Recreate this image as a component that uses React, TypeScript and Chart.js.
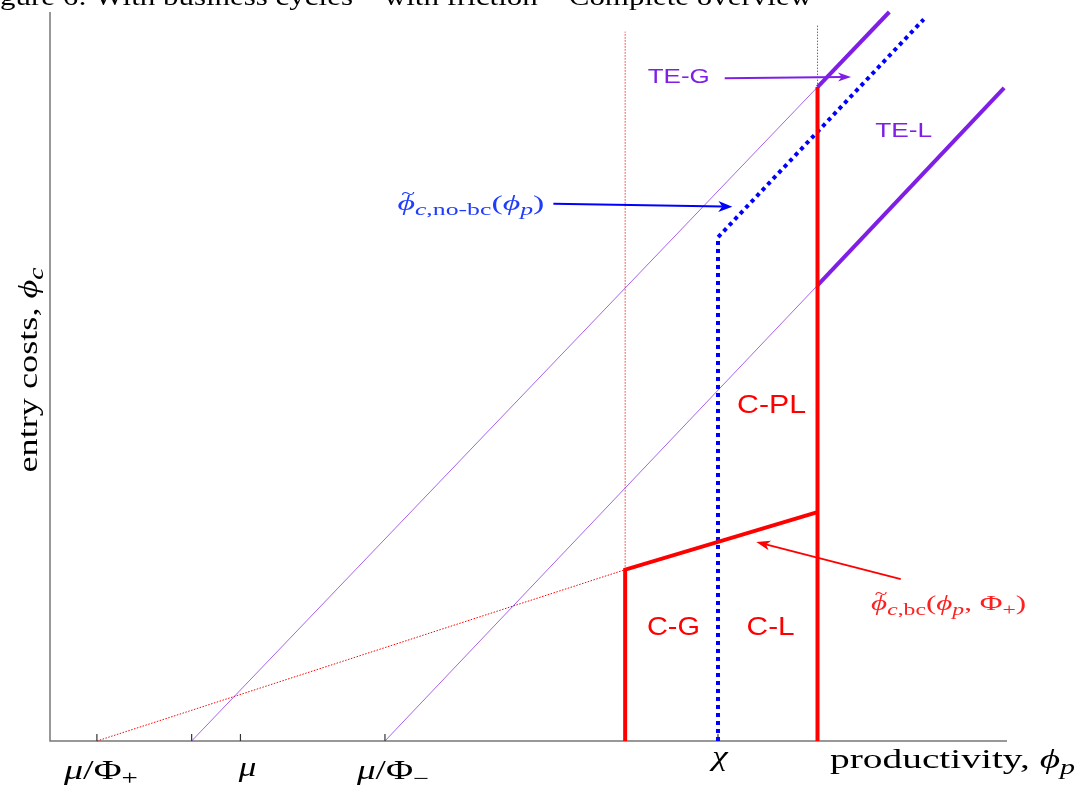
import React, { useEffect, useRef } from "react";
import { Chart, registerables } from "chart.js";

Chart.register(...registerables);

// ---------------- data (abstract units, x: 0..100, y: 0..100) ----------------
const xTickValues = [4.9, 14.8, 19.9, 35.0, 60.1, 69.8, 80.2];
const xTickLabels = ["μ/Φ+", "", "μ", "μ/Φ−", "", "χ", ""];

const redBaseExtension = [
  { x: 4.9, y: 0 },
  { x: 60.1, y: 23.5 },
];
const redGuideG = [
  { x: 60.1, y: 23.5 },
  { x: 60.1, y: 97.3 },
];
const redGuideL = [
  { x: 80.2, y: 89.7 },
  { x: 80.2, y: 98.2 },
];
const tegThin = [
  { x: 14.8, y: 0 },
  { x: 80.2, y: 89.7 },
];
const telThin = [
  { x: 35.0, y: 0 },
  { x: 80.2, y: 62.5 },
];
const tegThick = [
  { x: 80.2, y: 89.7 },
  { x: 87.7, y: 100 },
];
const telThick = [
  { x: 80.2, y: 62.5 },
  { x: 99.7, y: 89.6 },
];
const noBcThreshold = [
  { x: 69.8, y: 0 },
  { x: 69.8, y: 69.1 },
  { x: 91.3, y: 99.0 },
];
const bcThreshold = [
  { x: 60.1, y: 0 },
  { x: 60.1, y: 23.5 },
  { x: 80.2, y: 31.4 },
];
const cplBoundary = [
  { x: 80.2, y: 0 },
  { x: 80.2, y: 89.7 },
];

const arrowTEG = [
  { x: 70.5, y: 90.9 },
  { x: 83.7, y: 91.1 },
];
const arrowNoBc = [
  { x: 52.6, y: 73.7 },
  { x: 71.3, y: 73.3 },
];
const arrowBc = [
  { x: 88.9, y: 22.2 },
  { x: 73.8, y: 27.3 },
];

// ---------------- styles ----------------
const RED = "#ff0000";
const BLUE = "#0000ff";
const PURPLE = "#7f1fe6";
const AXIS = "#777777";
const SERIF = "'Liberation Serif', 'DejaVu Serif', serif";
const SANS = "'Liberation Sans', Arial, sans-serif";

type Part = { t: string; it?: boolean; sub?: boolean; tilde?: boolean };

const mathParts: Record<string, Part[]> = {
  "μ/Φ+": [{ t: "μ", it: true }, { t: "/" }, { t: "Φ" }, { t: "+", sub: true }],
  "μ": [{ t: "μ", it: true }],
  "μ/Φ−": [{ t: "μ", it: true }, { t: "/" }, { t: "Φ" }, { t: "−", sub: true }],
  "χ": [{ t: "χ", it: true }],
};
const tickLabelLayout: Record<string, { dx: number; base: number; width?: number }> = {
  "μ/Φ+": { dx: 4, base: 779, width: 74 },
  "μ": { dx: 7, base: 776 },
  "μ/Φ−": { dx: 8, base: 779, width: 72 },
  "χ": { dx: 2, base: 765 },
};

const xTitleParts: Part[] = [{ t: "productivity, " }, { t: "ϕ", it: true }, { t: "p", it: true, sub: true }];
const yTitleParts: Part[] = [{ t: "entry costs, " }, { t: "ϕ", it: true }, { t: "c", it: true, sub: true }];
const noBcParts: Part[] = [
  { t: "ϕ", it: true, tilde: true },
  { t: "c", it: true, sub: true },
  { t: ",no-bc", sub: true },
  { t: "(" },
  { t: "ϕ", it: true },
  { t: "p", it: true, sub: true },
  { t: ")" },
];
const bcParts: Part[] = [
  { t: "ϕ", it: true, tilde: true },
  { t: "c", it: true, sub: true },
  { t: ",bc", sub: true },
  { t: "(" },
  { t: "ϕ", it: true },
  { t: "p", it: true, sub: true },
  { t: ", " },
  { t: "Φ" },
  { t: "+", sub: true },
  { t: ")" },
];

const regionLabels = [
  { text: "TE-G", x: 65.7, y: 91.15, size: 21, width: 62, color: PURPLE },
  { text: "TE-L", x: 89.2, y: 83.8, size: 21, width: 57, color: PURPLE },
  { text: "C-PL", x: 75.4, y: 46.1, size: 25, width: 69, color: RED },
  { text: "C-G", x: 65.15, y: 15.6, size: 25, width: 53, color: RED },
  { text: "C-L", x: 75.3, y: 15.6, size: 25, width: 48, color: RED },
];

const TITLE = "Figure 6: With business cycles – with friction – Complete overview";

// ---------------- helpers ----------------
const SUB = 0.76;
function fontFor(p: Part, size: number) {
  const s = p.sub ? size * SUB : size;
  return `${p.it ? "italic " : ""}${s}px ${SERIF}`;
}
function measureParts(ctx: CanvasRenderingContext2D, parts: Part[], size: number) {
  let w = 0;
  for (const p of parts) {
    ctx.font = fontFor(p, size);
    w += ctx.measureText(p.t).width;
  }
  return w;
}
function drawParts(
  ctx: CanvasRenderingContext2D,
  parts: Part[],
  size: number,
  color: string,
  x: number,
  y: number,
  align: "left" | "center",
  targetW?: number,
  rotate = 0
) {
  const nat = measureParts(ctx, parts, size);
  const k = targetW ? targetW / nat : 1.3;
  ctx.save();
  ctx.translate(x, y);
  if (rotate) ctx.rotate(rotate);
  ctx.scale(k, 1);
  let cx = align === "center" ? -nat / 2 : 0;
  ctx.fillStyle = color;
  ctx.textAlign = "left";
  ctx.textBaseline = "alphabetic";
  for (const p of parts) {
    ctx.font = fontFor(p, size);
    const w = ctx.measureText(p.t).width;
    const dy = p.sub ? size * 0.22 : 0;
    ctx.fillText(p.t, cx, dy);
    if (p.tilde) {
      ctx.font = `${size * 0.75}px ${SERIF}`;
      const tw = ctx.measureText("~").width;
      ctx.fillText("~", cx + w / 2 - tw / 2 + size * 0.06, -size * 0.55);
    }
    cx += w;
  }
  ctx.restore();
}
function drawArrow(
  ctx: CanvasRenderingContext2D,
  x0: number,
  y0: number,
  x1: number,
  y1: number,
  color: string,
  lw: number,
  headL: number,
  headW: number
) {
  const ang = Math.atan2(y1 - y0, x1 - x0);
  ctx.save();
  ctx.strokeStyle = color;
  ctx.fillStyle = color;
  ctx.lineWidth = lw;
  ctx.beginPath();
  ctx.moveTo(x0, y0);
  ctx.lineTo(x1 - Math.cos(ang) * headL * 0.7, y1 - Math.sin(ang) * headL * 0.7);
  ctx.stroke();
  ctx.translate(x1, y1);
  ctx.rotate(ang);
  ctx.beginPath();
  ctx.moveTo(0, 0);
  ctx.lineTo(-headL, -headW);
  ctx.lineTo(-headL * 0.72, 0);
  ctx.lineTo(-headL, headW);
  ctx.closePath();
  ctx.fill();
  ctx.restore();
}

const overlayPlugin = {
  id: "overlay",
  beforeDatasetsDraw(chart: any) {
    const ctx: CanvasRenderingContext2D = chart.ctx;
    const { left, right, top, bottom } = chart.chartArea;
    const xs = chart.scales.x;
    ctx.save();
    ctx.strokeStyle = AXIS;
    ctx.lineWidth = 1.5;
    ctx.beginPath();
    ctx.moveTo(left, top);
    ctx.lineTo(left, bottom);
    ctx.lineTo(right, bottom);
    ctx.stroke();
    ctx.lineWidth = 1.2;
    ctx.strokeStyle = "#333";
    for (const v of xTickValues) {
      const px = xs.getPixelForValue(v);
      ctx.beginPath();
      ctx.moveTo(px, bottom);
      ctx.lineTo(px, bottom - 7);
      ctx.stroke();
    }
    ctx.restore();
  },
  afterDatasetsDraw(chart: any) {
    const ctx: CanvasRenderingContext2D = chart.ctx;
    const { left, bottom } = chart.chartArea;
    const xs = chart.scales.x;
    const ys = chart.scales.y;
    const P = (pt: { x: number; y: number }) => [xs.getPixelForValue(pt.x), ys.getPixelForValue(pt.y)];

    // tick labels
    xTickValues.forEach((v, i) => {
      const lab = xTickLabels[i];
      if (!lab) return;
      const lay = tickLabelLayout[lab];
      drawParts(ctx, mathParts[lab], 27, "#000", xs.getPixelForValue(v) + lay.dx, lay.base, "center", lay.width);
    });

    // axis titles
    drawParts(ctx, xTitleParts, 27, "#000", 830, bottom + 27, "left", 245);
    drawParts(ctx, yTitleParts, 27, "#000", left - 13, 370, "center", 205, -Math.PI / 2);

    // region labels
    for (const r of regionLabels) {
      const [px, py] = P(r);
      ctx.save();
      ctx.font = `${r.size}px ${SANS}`;
      const w = ctx.measureText(r.text).width;
      ctx.translate(px, py);
      ctx.scale(r.width / w, 1);
      ctx.fillStyle = r.color;
      ctx.textAlign = "center";
      ctx.textBaseline = "middle";
      ctx.fillText(r.text, 0, 1);
      ctx.restore();
    }

    // math annotations
    {
      const [px, py] = P({ x: 36.3, y: 72.8 });
      drawParts(ctx, noBcParts, 21, "#1f3cff", px, py, "left", 147);
    }
    {
      const [px, py] = P({ x: 85.8, y: 17.95 });
      drawParts(ctx, bcParts, 21, "#ff1f1f", px, py, "left", 155);
    }

    // arrows
    {
      const [a, b] = [P(arrowTEG[0]), P(arrowTEG[1])];
      drawArrow(ctx, a[0], a[1], b[0], b[1], PURPLE, 2, 13, 4.5);
    }
    {
      const [a, b] = [P(arrowNoBc[0]), P(arrowNoBc[1])];
      drawArrow(ctx, a[0], a[1], b[0], b[1], BLUE, 2, 14, 5.5);
    }
    {
      const [a, b] = [P(arrowBc[0]), P(arrowBc[1])];
      drawArrow(ctx, a[0], a[1], b[0], b[1], RED, 1.8, 14, 5);
    }

    // cut-off figure caption at the very top
    ctx.save();
    ctx.font = `26px ${SERIF}`;
    const full = ctx.measureText(TITLE).width;
    const pre = ctx.measureText("Fi").width;
    const k = 812 / (full - pre);
    ctx.translate(-pre * k, 5);
    ctx.scale(k, 1);
    ctx.fillStyle = "#000";
    ctx.textAlign = "left";
    ctx.textBaseline = "alphabetic";
    ctx.fillText(TITLE, 0, 0);
    ctx.restore();
  },
};

function line(data: any[], color: string, width: number, dash: number[], order: number) {
  return {
    data,
    borderColor: color,
    backgroundColor: color,
    borderWidth: width,
    borderDash: dash,
    borderCapStyle: "butt",
    borderJoinStyle: "miter",
    showLine: true,
    pointRadius: 0,
    pointHoverRadius: 0,
    fill: false,
    tension: 0,
    clip: false,
    order,
  };
}

export default function App() {
  const ref = useRef<HTMLCanvasElement | null>(null);
  useEffect(() => {
    if (!ref.current) return;
    const chart = new Chart(ref.current, {
      type: "scatter",
      data: {
        datasets: [
          line(bcThreshold, RED, 4, [], 0),
          line(cplBoundary, RED, 4, [], 0),
          line(noBcThreshold, BLUE, 4, [4, 4], 1),
          line(tegThick, PURPLE, 4, [], 2),
          line(telThick, PURPLE, 4, [], 2),
          line(tegThin, PURPLE, 0.7, [], 3),
          line(telThin, PURPLE, 0.7, [], 3),
          line(redBaseExtension, RED, 1, [1.5, 1.5], 4),
          line(redGuideG, "#ff3030", 1, [1.5, 1.5], 4),
          line(redGuideL, "#ff3030", 1, [1.5, 1.5], 4),
        ] as any,
      },
      options: {
        animation: false,
        responsive: false,
        events: [],
        layout: { padding: { left: 50, right: 71, top: 12, bottom: 44 } },
        plugins: {
          legend: { display: false },
          tooltip: { enabled: false },
          title: { display: false },
        },
        scales: {
          x: { type: "linear", min: 0, max: 100, display: false },
          y: { type: "linear", min: 0, max: 100, display: false },
        },
      },
      plugins: [overlayPlugin],
    });
    return () => chart.destroy();
  }, []);
  return (
    <div style={{ position: "fixed", left: 0, top: 0, width: 1078, height: 785, background: "#fff" }}>
      <canvas ref={ref} width={1078} height={785} style={{ display: "block" }} />
    </div>
  );
}
